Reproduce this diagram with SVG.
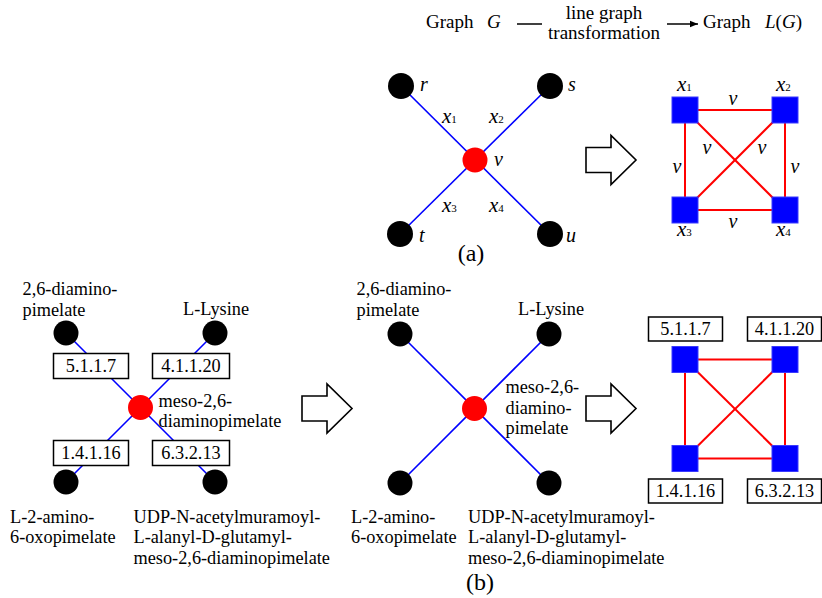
<svg xmlns="http://www.w3.org/2000/svg" width="822" height="598" viewBox="0 0 822 598">
<defs>
<style>
text{font-family:"Liberation Serif","Times New Roman",serif;fill:#000}
.t{font-size:18.3px}
.h{font-size:19px}
.i{font-style:italic}
.lab{font-size:20px;font-style:italic}
.xl{font-size:21px;font-style:italic}
.sub{font-size:11px;font-style:normal}
.cap{font-size:24px}
.blk{fill:#000}
.red{fill:#ff0000}
.sq{fill:#0000ff;stroke:#3a3aff;stroke-width:1}
.bl{stroke:#0000ff;stroke-width:1.6;fill:none}
.rl{stroke:#ff0000;stroke-width:2;fill:none}
.box{fill:#fff;stroke:#000;stroke-width:1.5}
.arr{fill:#fff;stroke:#000;stroke-width:1.6;stroke-linejoin:miter}
</style>
<marker id="ah" viewBox="0 0 10 10" refX="10" refY="5" markerWidth="8" markerHeight="8" markerUnits="userSpaceOnUse" orient="auto">
<path d="M0,1 L10,5 L0,9 Z" fill="#000"/>
</marker>
</defs>

<!-- header -->
<g id="header">
<text class="h" x="426" y="28">Graph</text>
<text class="h i" x="487" y="28">G</text>
<line x1="517" y1="24" x2="542" y2="24" stroke="#000" stroke-width="1.5"/>
<text class="h" x="604" y="19" text-anchor="middle">line graph</text>
<text class="h" x="604" y="39" text-anchor="middle">transformation</text>
<line x1="667" y1="24" x2="698" y2="24" stroke="#000" stroke-width="1.5" marker-end="url(#ah)"/>
<text class="h" x="703" y="28">Graph</text>
<text class="h" x="765" y="28"><tspan class="i">L</tspan>(<tspan class="i">G</tspan>)</text>
</g>

<!-- connectors -->
<g id="connectors">
<line class="bl" x1="401" y1="86" x2="550" y2="234"/>
<line class="bl" x1="550" y1="86" x2="400" y2="234"/>
<line class="rl" x1="685" y1="110" x2="785" y2="110"/>
<line class="rl" x1="685" y1="210" x2="785" y2="210"/>
<line class="rl" x1="685" y1="110" x2="685" y2="210"/>
<line class="rl" x1="785" y1="110" x2="785" y2="210"/>
<line class="rl" x1="685" y1="110" x2="785" y2="210"/>
<line class="rl" x1="785" y1="110" x2="685" y2="210"/>
<line class="bl" x1="66" y1="333" x2="215" y2="482"/>
<line class="bl" x1="215" y1="333" x2="66" y2="482"/>
<line class="bl" x1="400" y1="334" x2="549" y2="483"/>
<line class="bl" x1="549" y1="334" x2="400" y2="483"/>
<line class="rl" x1="685" y1="359.5" x2="785" y2="359.5"/>
<line class="rl" x1="685" y1="458.5" x2="785" y2="458.5"/>
<line class="rl" x1="685" y1="359.5" x2="685" y2="458.5"/>
<line class="rl" x1="785" y1="359.5" x2="785" y2="458.5"/>
<line class="rl" x1="685" y1="359.5" x2="785" y2="458.5"/>
<line class="rl" x1="785" y1="359.5" x2="685" y2="458.5"/>
</g>

<!-- (a) graph G -->
<g id="a-r"><circle class="blk" cx="401" cy="86" r="13"/><text class="lab" x="420" y="91">r</text></g>
<g id="a-s"><circle class="blk" cx="550" cy="86" r="13"/><text class="lab" x="568" y="91">s</text></g>
<g id="a-t"><circle class="blk" cx="400" cy="234" r="13"/><text class="lab" x="419" y="242">t</text></g>
<g id="a-u"><circle class="blk" cx="550" cy="234" r="13"/><text class="lab" x="566" y="242">u</text></g>
<g id="a-v"><circle class="red" cx="475" cy="160" r="12.5"/><text class="lab" x="494" y="166">v</text></g>
<g id="a-edge-labels">
<text class="xl" x="442" y="123">x<tspan class="sub">1</tspan></text>
<text class="xl" x="489" y="123">x<tspan class="sub">2</tspan></text>
<text class="xl" x="442" y="212">x<tspan class="sub">3</tspan></text>
<text class="xl" x="489" y="212">x<tspan class="sub">4</tspan></text>
</g>
<text class="cap" x="471" y="261" text-anchor="middle">(a)</text>

<g id="arrow-a"><path class="arr" d="M586,147.5 H611 V135.5 L636,160 L611,184.5 V172.5 H586 Z"/></g>

<!-- (a) line graph -->
<g id="a-x1"><rect class="sq" x="672" y="97" width="26" height="26"/><text class="xl" x="677" y="91">x<tspan class="sub">1</tspan></text></g>
<g id="a-x2"><rect class="sq" x="772" y="97" width="26" height="26"/><text class="xl" x="776" y="91">x<tspan class="sub">2</tspan></text></g>
<g id="a-x3"><rect class="sq" x="672" y="197" width="26" height="26"/><text class="xl" x="677" y="236">x<tspan class="sub">3</tspan></text></g>
<g id="a-x4"><rect class="sq" x="772" y="197" width="26" height="26"/><text class="xl" x="776" y="236">x<tspan class="sub">4</tspan></text></g>
<g id="a-v-labels">
<text class="lab" x="733" y="105" text-anchor="middle">v</text>
<text class="lab" x="677" y="173" text-anchor="middle">v</text>
<text class="lab" x="795" y="173" text-anchor="middle">v</text>
<text class="lab" x="707" y="154" text-anchor="middle">v</text>
<text class="lab" x="762" y="154" text-anchor="middle">v</text>
<text class="lab" x="733" y="228" text-anchor="middle">v</text>
</g>

<!-- (b) left -->
<g id="bl-tl"><circle class="blk" cx="66" cy="333" r="12.5"/><text class="t" x="22.5" y="295">2,6-diamino-</text><text class="t" x="22.5" y="316">pimelate</text></g>
<g id="bl-tr"><circle class="blk" cx="215" cy="333" r="12.5"/><text class="t" x="183" y="315">L-Lysine</text></g>
<g id="bl-bl"><circle class="blk" cx="66" cy="482" r="12.5"/><text class="t" x="10" y="522.5">L-2-amino-</text><text class="t" x="10" y="543">6-oxopimelate</text></g>
<g id="bl-br"><circle class="blk" cx="215" cy="482" r="12.5"/><text class="t" x="133.5" y="522.5">UDP-N-acetylmuramoyl-</text><text class="t" x="133.5" y="543">L-alanyl-D-glutamyl-</text><text class="t" x="133.5" y="563.5">meso-2,6-diaminopimelate</text></g>
<g id="bl-c"><circle class="red" cx="140.5" cy="407.5" r="12.5"/><text class="t" x="158.5" y="406.5">meso-2,6-</text><text class="t" x="158.5" y="427">diaminopimelate</text></g>
<g id="bl-e1"><rect class="box" x="53.5" y="353.5" width="75" height="25"/><text class="t" x="91" y="372" text-anchor="middle">5.1.1.7</text></g>
<g id="bl-e2"><rect class="box" x="152.5" y="353.5" width="77" height="25"/><text class="t" x="191" y="372" text-anchor="middle">4.1.1.20</text></g>
<g id="bl-e3"><rect class="box" x="53.5" y="440.5" width="75" height="25"/><text class="t" x="91" y="459" text-anchor="middle">1.4.1.16</text></g>
<g id="bl-e4"><rect class="box" x="152.5" y="440.5" width="77" height="25"/><text class="t" x="191" y="459" text-anchor="middle">6.3.2.13</text></g>

<g id="arrow-b1"><path class="arr" d="M302,396 H327 V384 L352,408.5 L327,433 V421 H302 Z"/></g>

<!-- (b) middle -->
<g id="bm-tl"><circle class="blk" cx="400" cy="334" r="12.5"/><text class="t" x="356.5" y="295">2,6-diamino-</text><text class="t" x="356.5" y="316">pimelate</text></g>
<g id="bm-tr"><circle class="blk" cx="549" cy="334" r="12.5"/><text class="t" x="518" y="315">L-Lysine</text></g>
<g id="bm-bl"><circle class="blk" cx="400" cy="483" r="12.5"/><text class="t" x="351" y="522.5">L-2-amino-</text><text class="t" x="351" y="543">6-oxopimelate</text></g>
<g id="bm-br"><circle class="blk" cx="549" cy="483" r="12.5"/><text class="t" x="468" y="522.5">UDP-N-acetylmuramoyl-</text><text class="t" x="468" y="543">L-alanyl-D-glutamyl-</text><text class="t" x="468" y="563.5">meso-2,6-diaminopimelate</text></g>
<g id="bm-c"><circle class="red" cx="474.5" cy="408.5" r="12.5"/><text class="t" x="505.5" y="393">meso-2,6-</text><text class="t" x="505.5" y="413.5">diamino-</text><text class="t" x="505.5" y="434">pimelate</text></g>
<text class="cap" x="480" y="590" text-anchor="middle">(b)</text>

<g id="arrow-b2"><path class="arr" d="M586,396 H611 V384 L636,408.5 L611,433 V421 H586 Z"/></g>

<!-- (b) right line graph -->
<g id="br-n1"><rect class="sq" x="672" y="346.5" width="26" height="26"/><rect class="box" x="648.5" y="317" width="74" height="24"/><text class="t" x="685.5" y="335" text-anchor="middle">5.1.1.7</text></g>
<g id="br-n2"><rect class="sq" x="772" y="346.5" width="26" height="26"/><rect class="box" x="747.5" y="317" width="74" height="24"/><text class="t" x="784.5" y="335" text-anchor="middle">4.1.1.20</text></g>
<g id="br-n3"><rect class="sq" x="672" y="445.5" width="26" height="26"/><rect class="box" x="648.5" y="479" width="74" height="24"/><text class="t" x="685.5" y="497" text-anchor="middle">1.4.1.16</text></g>
<g id="br-n4"><rect class="sq" x="772" y="445.5" width="26" height="26"/><rect class="box" x="747.5" y="479" width="74" height="24"/><text class="t" x="784.5" y="497" text-anchor="middle">6.3.2.13</text></g>
</svg>
